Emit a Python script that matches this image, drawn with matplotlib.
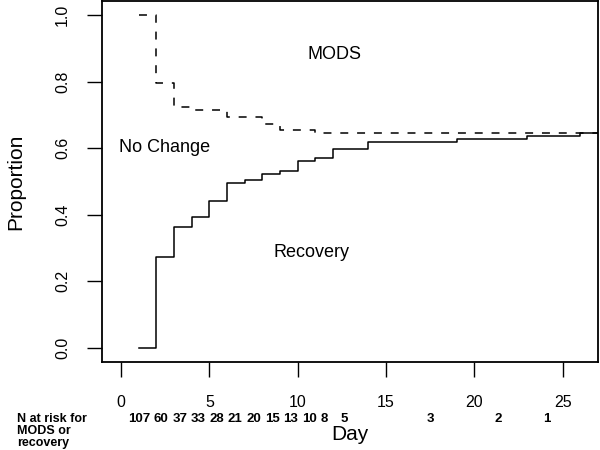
import matplotlib
matplotlib.use("Agg")
import matplotlib.pyplot as plt
import matplotlib.transforms as mtransforms

plt.rcParams['font.family'] = ['Liberation Sans', 'DejaVu Sans']

# cumulative incidence curves (step functions)
mods_days = [1, 2, 3, 4, 6, 8, 9, 11, 27]
mods_free = [1.0, 0.797, 0.722, 0.713, 0.692, 0.673, 0.655, 0.645, 0.645]

rec_days = [1, 2, 3, 4, 5, 6, 7, 8, 9, 10, 11, 12, 14, 19, 23, 26, 27]
recovery = [0.0, 0.272, 0.364, 0.392, 0.44, 0.496, 0.505, 0.523, 0.532,
            0.561, 0.570, 0.598, 0.617, 0.626, 0.635, 0.646, 0.646]

# numbers at risk, with the day position they are printed under
risk_n = [107, 60, 37, 33, 28, 21, 20, 15, 13, 10, 8, 5, 3, 2, 1]
risk_pos = [1.02, 2.28, 3.33, 4.38, 5.42, 6.47, 7.52, 8.56, 9.61, 10.66,
            11.5, 12.63, 17.5, 21.37, 24.08]

x_ticks = [0, 5, 10, 15, 20, 25]
y_ticks = [0.0, 0.2, 0.4, 0.6, 0.8, 1.0]

fig = plt.figure(figsize=(6, 4.5), dpi=100)
ax = fig.add_axes([0.17, 0.1956, 0.8267, 0.8024])

ax.step(mods_days, mods_free, where='post', color='black', lw=1.1,
        dashes=(5.2, 5.8))
ax.step(rec_days, recovery, where='post', color='black', lw=1.1)

ax.set_xlim(-1.08, 27.0)
ax.set_ylim(-0.042, 1.042)
ax.set_xticks(x_ticks)
ax.set_yticks(y_ticks)
ax.set_yticklabels(['%.1f' % v for v in y_ticks])
ax.tick_params(axis='both', direction='out', length=11, width=1.0,
               labelsize=11.5, color='black')
ax.tick_params(axis='x', pad=13)
ax.tick_params(axis='y', pad=12, labelrotation=90)
for lbl in ax.get_yticklabels():
    lbl.set_va('center')
for s in ax.spines.values():
    s.set_linewidth(1.3)

ax.set_ylabel('Proportion', fontsize=15)
ax.yaxis.set_label_coords(-0.155, 0.5)
ax.set_xlabel('Day', fontsize=15, va='center')
ax.xaxis.set_label_coords(0.5, -0.2017)

ax.text(12.07, 0.880, 'MODS', fontsize=13, ha='center', va='center')
ax.text(2.49, 0.602, 'No Change', fontsize=13, ha='center', va='center')
ax.text(10.76, 0.287, 'Recovery', fontsize=13, ha='center', va='center')

trans = mtransforms.blended_transform_factory(ax.transData, fig.transFigure)
for n, p in zip(risk_n, risk_pos):
    ax.text(p, 1 - 419 / 450, str(n), transform=trans, fontsize=9.5,
            fontweight='bold', ha='center', va='center', clip_on=False)

fig.text(0.028, 1 - 431 / 450, 'N at risk for\nMODS or\nrecovery',
         fontsize=9, fontweight='bold', ha='left', va='center',
         linespacing=1.0)

fig.savefig('out.png', dpi=100)
